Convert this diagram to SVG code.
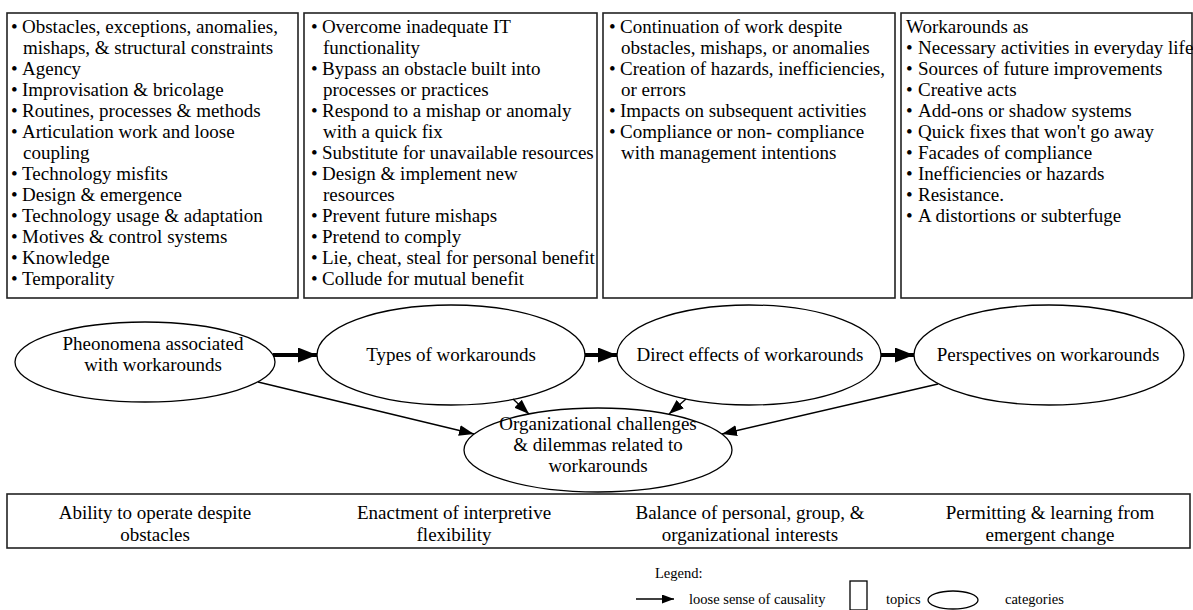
<svg xmlns="http://www.w3.org/2000/svg" width="1193" height="610" viewBox="0 0 1193 610">
<style>
  text { font-family: "Liberation Serif", "Times New Roman", serif; font-size: 19px; fill: #000; }
  .c { text-anchor: middle; }
  .lg { font-size: 14.5px; }
  .box { fill: #fff; stroke: #222; stroke-width: 1.6; }
  .ell { fill: #fff; stroke: #000; stroke-width: 1.3; }
  .thick { stroke: #000; stroke-width: 4; fill: none; }
  .thin { stroke: #000; stroke-width: 1.3; fill: none; }
</style>
<defs>
  <marker id="headBig" markerUnits="userSpaceOnUse" markerWidth="19" markerHeight="15" refX="19" refY="7.5" orient="auto">
    <path d="M0,0 L19,7.5 L0,15 z" fill="#000"/>
  </marker>
  <marker id="headSmall" markerUnits="userSpaceOnUse" markerWidth="15" markerHeight="11" refX="15" refY="5.5" orient="auto">
    <path d="M0,0 L15,5.5 L0,11 z" fill="#000"/>
  </marker>
  <marker id="headLegend" markerUnits="userSpaceOnUse" markerWidth="12" markerHeight="9" refX="12" refY="4.5" orient="auto">
    <path d="M0,0 L12,4.5 L0,9 z" fill="#000"/>
  </marker>
</defs>
<rect width="1193" height="610" fill="#fff"/>

<g id="topic-phenomena">
  <rect class="box" x="7" y="13" width="291" height="285"/>
  <text x="11" y="33">•<tspan x="22">Obstacles, exceptions, anomalies,</tspan></text>
  <text x="23" y="54">mishaps, &amp; structural constraints</text>
  <text x="11" y="75">•<tspan x="22">Agency</tspan></text>
  <text x="11" y="96">•<tspan x="22">Improvisation &amp; bricolage</tspan></text>
  <text x="11" y="117">•<tspan x="22">Routines, processes &amp; methods</tspan></text>
  <text x="11" y="138">•<tspan x="22">Articulation work and loose</tspan></text>
  <text x="23" y="159">coupling</text>
  <text x="11" y="180">•<tspan x="22">Technology misfits</tspan></text>
  <text x="11" y="201">•<tspan x="22">Design &amp; emergence</tspan></text>
  <text x="11" y="222">•<tspan x="22">Technology usage &amp; adaptation</tspan></text>
  <text x="11" y="243">•<tspan x="22">Motives &amp; control systems</tspan></text>
  <text x="11" y="264">•<tspan x="22">Knowledge</tspan></text>
  <text x="11" y="285">•<tspan x="22">Temporality</tspan></text>
</g>

<g id="topic-types">
  <rect class="box" x="304" y="13" width="293" height="285"/>
  <text x="311" y="33">•<tspan x="322">Overcome inadequate IT</tspan></text>
  <text x="323" y="54">functionality</text>
  <text x="311" y="75">•<tspan x="322">Bypass an obstacle built into</tspan></text>
  <text x="323" y="96">processes or practices</text>
  <text x="311" y="117">•<tspan x="322">Respond to a mishap or anomaly</tspan></text>
  <text x="323" y="138">with a quick fix</text>
  <text x="311" y="159">•<tspan x="322">Substitute for unavailable resources</tspan></text>
  <text x="311" y="180">•<tspan x="322">Design &amp; implement new</tspan></text>
  <text x="323" y="201">resources</text>
  <text x="311" y="222">•<tspan x="322">Prevent future mishaps</tspan></text>
  <text x="311" y="243">•<tspan x="322">Pretend to comply</tspan></text>
  <text x="311" y="264">•<tspan x="322">Lie, cheat, steal for personal benefit</tspan></text>
  <text x="311" y="285">•<tspan x="322">Collude for mutual benefit</tspan></text>
</g>

<g id="topic-effects">
  <rect class="box" x="603" y="13" width="292" height="285"/>
  <text x="609" y="33">•<tspan x="620">Continuation of work despite</tspan></text>
  <text x="621" y="54">obstacles, mishaps, or anomalies</text>
  <text x="609" y="75">•<tspan x="620">Creation of  hazards, inefficiencies,</tspan></text>
  <text x="621" y="96">or errors</text>
  <text x="609" y="117">•<tspan x="620">Impacts on subsequent activities</tspan></text>
  <text x="609" y="138">•<tspan x="620">Compliance or non- compliance</tspan></text>
  <text x="621" y="159">with management intentions</text>
</g>

<g id="topic-perspectives">
  <rect class="box" x="901" y="13" width="291" height="285"/>
  <text x="906" y="33">Workarounds as</text>
  <text x="906" y="54">•<tspan x="918">Necessary activities in everyday life</tspan></text>
  <text x="906" y="75">•<tspan x="918">Sources of future improvements</tspan></text>
  <text x="906" y="96">•<tspan x="918">Creative acts</tspan></text>
  <text x="906" y="117">•<tspan x="918">Add-ons or shadow systems</tspan></text>
  <text x="906" y="138">•<tspan x="918">Quick fixes that won't go away</tspan></text>
  <text x="906" y="159">•<tspan x="918">Facades of compliance</tspan></text>
  <text x="906" y="180">•<tspan x="918">Inefficiencies or hazards</tspan></text>
  <text x="906" y="201">•<tspan x="918">Resistance.</tspan></text>
  <text x="906" y="222">•<tspan x="918">A distortions or subterfuge</tspan></text>
</g>

<g id="cat-phenomena">
  <ellipse class="ell" cx="145" cy="362" rx="130" ry="40"/>
  <text class="c" x="153" y="350">Pheonomena associated</text>
  <text class="c" x="153" y="371">with workarounds</text>
</g>
<g id="cat-types">
  <ellipse class="ell" cx="451" cy="355" rx="134" ry="50"/>
  <text class="c" x="451" y="361">Types of workarounds</text>
</g>
<g id="cat-effects">
  <ellipse class="ell" cx="749" cy="355" rx="132" ry="50"/>
  <text class="c" x="750" y="361">Direct effects of workarounds</text>
</g>
<g id="cat-perspectives">
  <ellipse class="ell" cx="1049" cy="355" rx="135" ry="50"/>
  <text class="c" x="1048" y="361">Perspectives on workarounds</text>
</g>
<g id="cat-challenges">
  <ellipse class="ell" cx="598" cy="450" rx="134" ry="42"/>
  <text class="c" x="598" y="430">Organizational challenges</text>
  <text class="c" x="598" y="451">&amp; dilemmas related to</text>
  <text class="c" x="598" y="472">workarounds</text>
</g>

<g id="connectors">
  <line class="thick" x1="273" y1="355" x2="317" y2="355" marker-end="url(#headBig)"/>
  <line class="thick" x1="585" y1="355" x2="617" y2="355" marker-end="url(#headBig)"/>
  <line class="thick" x1="881" y1="355" x2="914" y2="355" marker-end="url(#headBig)"/>
  <line class="thin" x1="258" y1="382" x2="474" y2="434" marker-end="url(#headSmall)"/>
  <line class="thin" x1="513" y1="399" x2="529" y2="414" marker-end="url(#headSmall)"/>
  <line class="thin" x1="686" y1="399" x2="669" y2="414" marker-end="url(#headSmall)"/>
  <line class="thin" x1="938" y1="384" x2="722" y2="434" marker-end="url(#headSmall)"/>
</g>

<g id="outcomes">
  <rect class="box" x="7" y="494" width="1183" height="54"/>
  <text class="c" x="155" y="519">Ability to operate despite</text>
  <text class="c" x="155" y="541">obstacles</text>
  <text class="c" x="454" y="519">Enactment of interpretive</text>
  <text class="c" x="454" y="541">flexibility</text>
  <text class="c" x="750" y="519">Balance of personal, group, &amp;</text>
  <text class="c" x="750" y="541">organizational interests</text>
  <text class="c" x="1050" y="519">Permitting &amp; learning from</text>
  <text class="c" x="1050" y="541">emergent change</text>
</g>

<g id="legend">
  <text class="lg" x="655" y="578">Legend:</text>
  <line class="thin" x1="636" y1="599" x2="674" y2="599" marker-end="url(#headLegend)"/>
  <text class="lg" x="689" y="604">loose sense of causality</text>
  <rect x="850" y="581" width="17" height="29" fill="#fff" stroke="#000" stroke-width="1.3"/>
  <text class="lg" x="886" y="604">topics</text>
  <ellipse cx="953" cy="600" rx="25" ry="9" fill="#fff" stroke="#000" stroke-width="1.3"/>
  <text class="lg" x="1005" y="604">categories</text>
</g>
</svg>
